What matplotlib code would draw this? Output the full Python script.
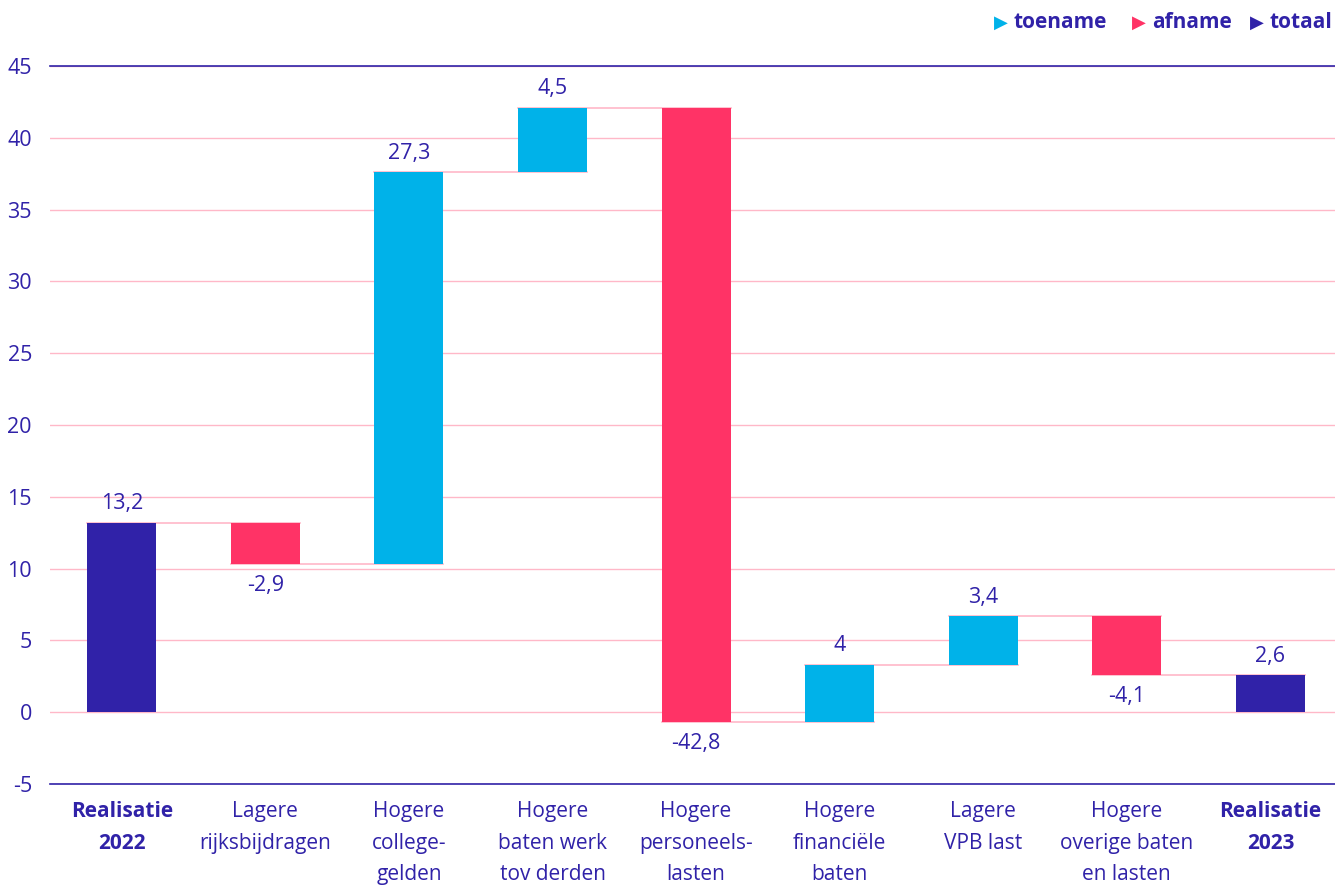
import matplotlib
matplotlib.use("Agg")
import matplotlib.pyplot as plt

plt.rcParams["font.family"] = ["Open Sans", "DejaVu Sans"]
plt.rcParams["axes.unicode_minus"] = False

NAVY = "#3022A8"
UP = "#00B2E9"
DOWN = "#FF3366"
GRID = "#FFB8C8"

labels = ["Realisatie\n2022", "Lagere\nrijksbijdragen", "Hogere\ncollege-\ngelden",
          "Hogere\nbaten werk\ntov derden", "Hogere\npersoneels-\nlasten",
          "Hogere\nfinanciële\nbaten", "Lagere\nVPB last",
          "Hogere\noverige baten\nen lasten", "Realisatie\n2023"]
changes = [13.2, -2.9, 27.3, 4.5, -42.8, 4, 3.4, -4.1, 2.6]
kinds = ["total", "delta", "delta", "delta", "delta", "delta", "delta", "delta", "total"]

# cumulative bottoms / levels
bottoms, levels = [], []
run = 0.0
for v, k in zip(changes, kinds):
    if k == "total":
        bottoms.append(0.0)
        run = v
    else:
        bottoms.append(run)
        run = run + v
    levels.append(run)

fig = plt.figure(figsize=(13.35, 8.86), dpi=100)
ax = fig.add_axes([50 / 1335, 1 - 784 / 886, 1 - 50 / 1335, (784 - 66) / 886])

x = list(range(len(changes)))
colors = [NAVY if k == "total" else (UP if v > 0 else DOWN) for v, k in zip(changes, kinds)]
w = 0.48
ax.bar(x, changes, bottom=bottoms, width=w, color=colors, zorder=3)

# connectors
for i in range(len(x) - 1):
    ax.plot([i - w / 2, i + 1 + w / 2], [levels[i], levels[i]], color=GRID, lw=1.2, zorder=2)

# value labels
for i, (v, b) in enumerate(zip(changes, bottoms)):
    txt = f"{v:g}".replace(".", ",")
    if v >= 0:
        ax.annotate(txt, (i, b + v), xytext=(0, 6), textcoords="offset points",
                    ha="center", va="bottom", fontsize=15.5, color=NAVY)
    else:
        ax.annotate(txt, (i, b + v), xytext=(0, -8), textcoords="offset points",
                    ha="center", va="top", fontsize=15.5, color=NAVY)

ax.set_ylim(-5, 45)
ax.set_xlim(-0.5, 8.45)
ax.set_yticks(range(-5, 46, 5))
ax.yaxis.grid(True, color=GRID, lw=1.0, zorder=0)
ax.set_axisbelow(True)
for s in ["left", "right"]:
    ax.spines[s].set_visible(False)
for s in ["top", "bottom"]:
    ax.spines[s].set_color(NAVY)
    ax.spines[s].set_linewidth(1.2)
ax.tick_params(axis="y", length=0, pad=13, labelsize=15.5, labelcolor=NAVY)
ax.tick_params(axis="x", length=0, pad=12, labelsize=15, labelcolor=NAVY)
ax.set_xticks(x)
ax.set_xticklabels(labels, linespacing=1.68)
for t, k in zip(ax.get_xticklabels(), kinds):
    if k == "total":
        t.set_fontweight("bold")

# legend
legend_items = [("toename", UP, 994), ("afname", DOWN, 1132), ("totaal", NAVY, 1250)]
for name, col, px in legend_items:
    fig.text(px / 1335, 1 - 23 / 886, "▶", color=col, fontsize=13,
             family="DejaVu Sans", va="center", ha="left")
    fig.text((px + 20) / 1335, 1 - 23 / 886, name, color=NAVY, fontsize=15,
             fontweight="bold", va="center", ha="left")

fig.savefig("out.png", dpi=100)
